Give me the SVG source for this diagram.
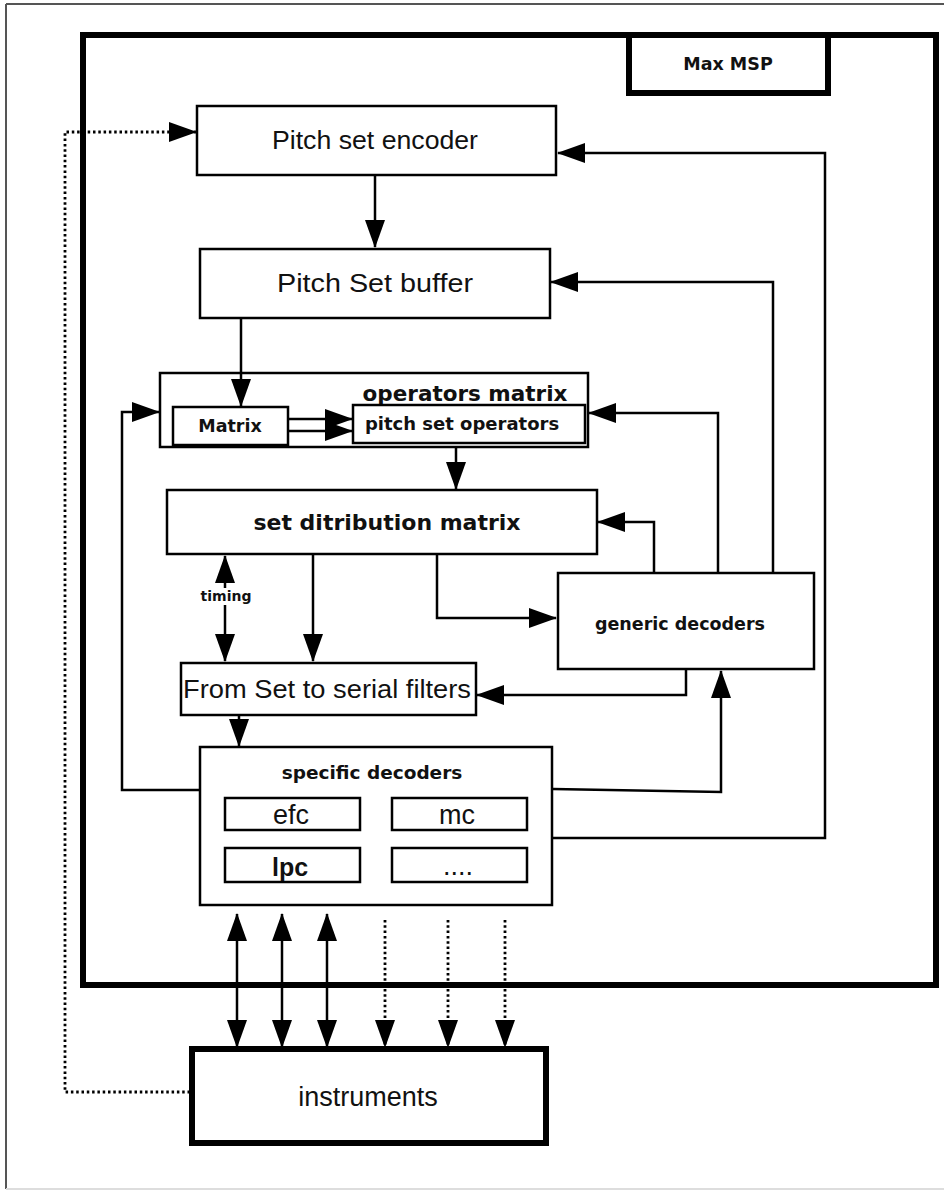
<svg xmlns="http://www.w3.org/2000/svg" width="944" height="1193" viewBox="0 0 944 1193">
<defs>
<style>
.box{fill:#fff;stroke:#000;stroke-width:2.5}
.thick{fill:none;stroke:#000;stroke-width:6}
.thickbox{fill:#fff;stroke:#000;stroke-width:6}
.c{fill:none;stroke:#000;stroke-width:2.5}
.dot{fill:none;stroke:#000;stroke-width:2.8;stroke-dasharray:2.5 2.8}
.r{font-family:"Liberation Sans",Arial,sans-serif;fill:#111;text-anchor:middle}
.b{font-family:"DejaVu Sans",Verdana,sans-serif;font-weight:bold;fill:#111;text-anchor:middle}
</style>
<marker id="ah" markerUnits="userSpaceOnUse" viewBox="0 0 28 20" markerWidth="28" markerHeight="20" refX="27" refY="10" orient="auto-start-reverse">
<path d="M0,0 L28,10 L0,20 z" fill="#000"/>
</marker>
</defs>
<rect width="944" height="1193" fill="#fff"/>
<g id="page-border">
<line x1="6" y1="4" x2="944" y2="4" stroke="#555" stroke-width="2"/>
<line x1="6" y1="4" x2="6" y2="1189" stroke="#555" stroke-width="2"/>
<line x1="6" y1="1189" x2="944" y2="1189" stroke="#ddd" stroke-width="2"/>
</g>
<g id="maxmsp-frame">
<rect class="thick" x="83" y="35" width="853" height="950"/>
</g>
<g id="maxmsp-label">
<rect class="thickbox" x="629" y="35" width="199" height="58"/>
<text class="b" x="728" y="70" font-size="17.5">Max MSP</text>
</g>
<g id="pitch-set-encoder">
<rect class="box" x="197" y="106" width="359" height="69"/>
<text class="r" x="375" y="149" font-size="25" textLength="206" lengthAdjust="spacingAndGlyphs">Pitch set encoder</text>
</g>
<g id="pitch-set-buffer">
<rect class="box" x="200" y="249" width="350" height="69"/>
<text class="r" x="375" y="292" font-size="25" textLength="196" lengthAdjust="spacingAndGlyphs">Pitch Set buffer</text>
</g>
<g id="operators-matrix">
<rect class="box" x="160" y="373" width="428" height="74"/>
<text class="b" x="465" y="401" font-size="21.5">operators matrix</text>
</g>
<g id="matrix">
<rect class="box" x="173" y="407" width="115" height="38"/>
<text class="b" x="230" y="432" font-size="17.5">Matrix</text>
</g>
<g id="pitch-set-operators">
<rect class="box" x="353" y="405" width="232" height="38"/>
<text class="b" x="462" y="430" font-size="18">pitch set operators</text>
</g>
<g id="set-distribution-matrix">
<rect class="box" x="167" y="490" width="430" height="64"/>
<text class="b" x="387" y="530" font-size="22">set ditribution matrix</text>
</g>
<g id="generic-decoders">
<rect class="box" x="558" y="573" width="256" height="96"/>
<text class="b" x="680" y="630" font-size="17.5">generic decoders</text>
</g>
<g id="from-set-to-serial-filters">
<rect class="box" x="181" y="663" width="295" height="52"/>
<text class="r" x="327" y="698" font-size="25" textLength="288" lengthAdjust="spacingAndGlyphs">From Set to serial filters</text>
</g>
<g id="specific-decoders">
<rect class="box" x="200" y="747" width="352" height="158"/>
<text class="b" x="372" y="779" font-size="18.5">specific decoders</text>
</g>
<g id="efc">
<rect class="box" x="225" y="798" width="135" height="32"/>
<text class="r" x="291" y="824" font-size="27">efc</text>
</g>
<g id="mc">
<rect class="box" x="392" y="798" width="135" height="32"/>
<text class="r" x="457" y="824" font-size="27">mc</text>
</g>
<g id="lpc">
<rect class="box" x="225" y="848" width="135" height="34"/>
<text class="r" x="290" y="876" font-size="25" font-weight="bold">lpc</text>
</g>
<g id="more">
<rect class="box" x="392" y="848" width="135" height="34"/>
<text class="r" x="458" y="875" font-size="27">....</text>
</g>
<g id="instruments">
<rect class="thickbox" x="192" y="1049" width="354" height="94"/>
<text class="r" x="368" y="1106" font-size="27">instruments</text>
</g>
<g id="connectors">
<line class="c" x1="375" y1="175" x2="375" y2="247" marker-end="url(#ah)"/>
<line class="c" x1="241" y1="318" x2="241" y2="406" marker-end="url(#ah)"/>
<line class="c" x1="288" y1="419" x2="352" y2="419" marker-end="url(#ah)"/>
<line class="c" x1="288" y1="431" x2="352" y2="431" marker-end="url(#ah)"/>
<line class="c" x1="456" y1="447" x2="456" y2="489" marker-end="url(#ah)"/>
<line class="c" x1="225" y1="556" x2="225" y2="661" marker-start="url(#ah)" marker-end="url(#ah)"/>
<line class="c" x1="313" y1="555" x2="313" y2="661" marker-end="url(#ah)"/>
<polyline class="c" points="437,555 437,618 556,618" marker-end="url(#ah)"/>
<polyline class="c" points="686,670 686,695 477,695" marker-end="url(#ah)"/>
<line class="c" x1="239" y1="716" x2="239" y2="746" marker-end="url(#ah)"/>
<polyline class="c" points="553,789 721,792 721,671" marker-end="url(#ah)"/>
<polyline class="c" points="553,838 825,838 825,153 558,153" marker-end="url(#ah)"/>
<polyline class="c" points="773,572 773,282 551,282" marker-end="url(#ah)"/>
<polyline class="c" points="718,572 718,413 589,413" marker-end="url(#ah)"/>
<polyline class="c" points="654,572 654,522 598,522" marker-end="url(#ah)"/>
<polyline class="c" points="199,790 122,790 122,412 159,412" marker-end="url(#ah)"/>
<line class="c" x1="237" y1="1047" x2="237" y2="914" marker-start="url(#ah)" marker-end="url(#ah)"/>
<line class="c" x1="282" y1="1047" x2="282" y2="914" marker-start="url(#ah)" marker-end="url(#ah)"/>
<line class="c" x1="327" y1="1047" x2="327" y2="914" marker-start="url(#ah)" marker-end="url(#ah)"/>
<line class="dot" x1="385" y1="920" x2="385" y2="1047" marker-end="url(#ah)"/>
<line class="dot" x1="448" y1="920" x2="448" y2="1047" marker-end="url(#ah)"/>
<line class="dot" x1="505" y1="920" x2="505" y2="1047" marker-end="url(#ah)"/>
<polyline class="dot" points="190,1092 65,1092 65,132 196,132" marker-end="url(#ah)"/>
<rect x="200" y="588" width="52" height="17" fill="#fff"/>
<text class="b" x="226" y="601" font-size="14">timing</text>
</g>
</svg>
